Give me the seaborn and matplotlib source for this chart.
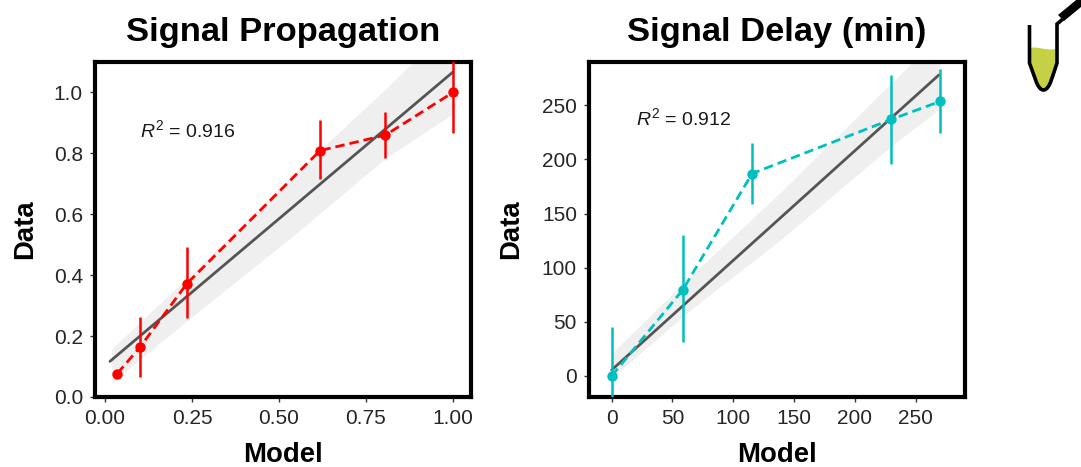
import numpy as np
import pandas as pd
import matplotlib
matplotlib.use("Agg")
import matplotlib.pyplot as plt
from matplotlib.path import Path
from matplotlib.patches import PathPatch, Polygon
import seaborn as sns

sns.set_style("ticks")
plt.rcParams['font.family'] = ['Liberation Sans', 'DejaVu Sans']
plt.rcParams['mathtext.fontset'] = 'custom'
plt.rcParams['mathtext.it'] = 'Liberation Sans:italic'
plt.rcParams['mathtext.rm'] = 'Liberation Sans'

# Signal Propagation
prop_model = [0.035, 0.10, 0.235, 0.618, 0.806, 1.0]
prop_data = [0.077, 0.163, 0.372, 0.809, 0.860, 1.0]
prop_err_low = [0.01, 0.097, 0.112, 0.094, 0.076, 0.134]
prop_err_high = [0.01, 0.101, 0.121, 0.100, 0.077, 0.134]
prop_fit_x = [0.014, 1.0]
prop_fit_y = [0.117, 1.067]
prop_band_x = [0.019, 0.235, 0.546, 0.805, 1.0]
prop_band_low = [0.047, 0.25, 0.534, 0.783, 0.93]
prop_band_high = [0.158, 0.39, 0.735, 1.01, 1.23]
prop_xticks = [0.0, 0.25, 0.5, 0.75, 1.0]
prop_xlabels = ["0.00", "0.25", "0.50", "0.75", "1.00"]
prop_yticks = [0.0, 0.2, 0.4, 0.6, 0.8, 1.0]
prop_ylabels = ["0.0", "0.2", "0.4", "0.6", "0.8", "1.0"]

# Signal Delay
delay_model = [0, 58.4, 115.5, 230, 270]
delay_data = [0, 79.4, 187, 237, 253.6]
delay_err_low = [45, 48, 28, 41, 29]
delay_err_high = [45, 51, 28, 41, 30]
delay_fit_x = [0, 269]
delay_fit_y = [5.5, 278]
delay_band_x = [0, 64.8, 139, 229.4, 270]
delay_band_low = [-2, 61, 126, 212, 247]
delay_band_high = [21, 92, 170, 270, 315]
delay_ticks = [0, 50, 100, 150, 200, 250]

titles = ["Signal Propagation", "Signal Delay (min)"]
r2_labels = [r"$R^2$ = 0.916", r"$R^2$ = 0.912"]

W, H = 1081, 467
fig = plt.figure(figsize=(W / 100, H / 100), dpi=100, facecolor="white")


def make_axes(l, r, t, b):
    return fig.add_axes([l / W, 1 - b / H, (r - l) / W, (b - t) / H])


def panel(ax, mx, my, lo, hi, fx, fy, bx, bl, bh, color, title, r2, r2pos, ypad):
    ax.fill_between(bx, bl, bh, color="#7f7f7f", alpha=0.12, lw=0, zorder=1)
    sns.lineplot(x=fx, y=fy, ax=ax, color="#555555", lw=2.0, zorder=2, errorbar=None)
    ax.errorbar(mx, my, yerr=[lo, hi], fmt="none", ecolor=color, elinewidth=1.8, zorder=3)
    df = pd.DataFrame({"Model": mx, "Data": my})
    sns.lineplot(data=df, x="Model", y="Data", ax=ax, color=color, lw=2.0, marker="o",
                 markersize=7.5, markeredgewidth=0, sort=False, errorbar=None, zorder=4,
                 linestyle=(0, (3.4, 1.8)))
    for s in ax.spines.values():
        s.set_visible(True)
        s.set_linewidth(3)
        s.set_color("black")
    ax.tick_params(axis="both", labelsize=15, length=3.5, width=1, color="#333333",
                   labelcolor="#262626", pad=5.2)
    ax.set_title(title, fontsize=24.8, fontweight="bold", pad=15, color="black")
    ax.set_xlabel("Model", fontsize=19.8, fontweight="bold", labelpad=10, color="black")
    ax.set_ylabel("Data", fontsize=19.8, fontweight="bold", labelpad=ypad, color="black")
    ax.text(r2pos[0], r2pos[1], r2, fontsize=14, color="#1a1a1a",
            ha="left", va="center", transform=ax.transData)


ax1 = make_axes(95, 471, 62, 397)
panel(ax1, prop_model, prop_data, prop_err_low, prop_err_high, prop_fit_x, prop_fit_y,
      prop_band_x, prop_band_low, prop_band_high, "#ff0000", titles[0], r2_labels[0], (0.10, 0.875), 11)
ax1.set_xlim(-0.029, 1.052)
ax1.set_ylim(0.0, 1.1)
ax1.set_xticks(prop_xticks, prop_xlabels)
ax1.set_yticks(prop_yticks, prop_ylabels)

ax2 = make_axes(589, 965, 62, 397)
panel(ax2, delay_model, delay_data, delay_err_low, delay_err_high, delay_fit_x, delay_fit_y,
      delay_band_x, delay_band_low, delay_band_high, "#00bfbf", titles[1], r2_labels[1], (20, 238), 12.5)
ax2.set_xlim(-18.6, 290.5)
ax2.set_ylim(-19.4, 290)
ax2.set_xticks(delay_ticks)
ax2.set_yticks(delay_ticks)

# Tube and dropper icon, on a full-figure overlay measured in pixels
icon = fig.add_axes([0, 0, 1, 1], zorder=5)
icon.set_xlim(0, W)
icon.set_ylim(H, 0)
icon.axis("off")
icon.patch.set_alpha(0)
liquid = Path(
    [(1030, 48), (1038, 46), (1045, 51), (1056, 49), (1056, 64),
     (1050, 76), (1049, 90), (1043, 90),
     (1037, 90), (1036, 76), (1030, 64), (1030, 48)],
    [Path.MOVETO, Path.CURVE4, Path.CURVE4, Path.CURVE4, Path.LINETO,
     Path.CURVE4, Path.CURVE4, Path.CURVE4,
     Path.CURVE4, Path.CURVE4, Path.CURVE4, Path.LINETO])
icon.add_patch(PathPatch(liquid, fc="#c6d045", ec="none"))
tube = Path(
    [(1029.5, 25), (1029.5, 63), (1034, 74), (1037, 90), (1043.5, 90),
     (1050, 90), (1053, 74), (1057, 63), (1057, 24), (1070, 13)],
    [Path.MOVETO, Path.LINETO, Path.CURVE4, Path.CURVE4, Path.CURVE4,
     Path.CURVE4, Path.CURVE4, Path.CURVE4, Path.LINETO, Path.LINETO])
icon.add_patch(PathPatch(tube, fc="none", ec="black", lw=2.6, capstyle="butt"))
icon.add_patch(Polygon([(1058, 15), (1081, -4), (1081, 7), (1064, 21)], closed=True, fc="black", ec="none"))

fig.savefig("out.png", dpi=100, facecolor="white")
